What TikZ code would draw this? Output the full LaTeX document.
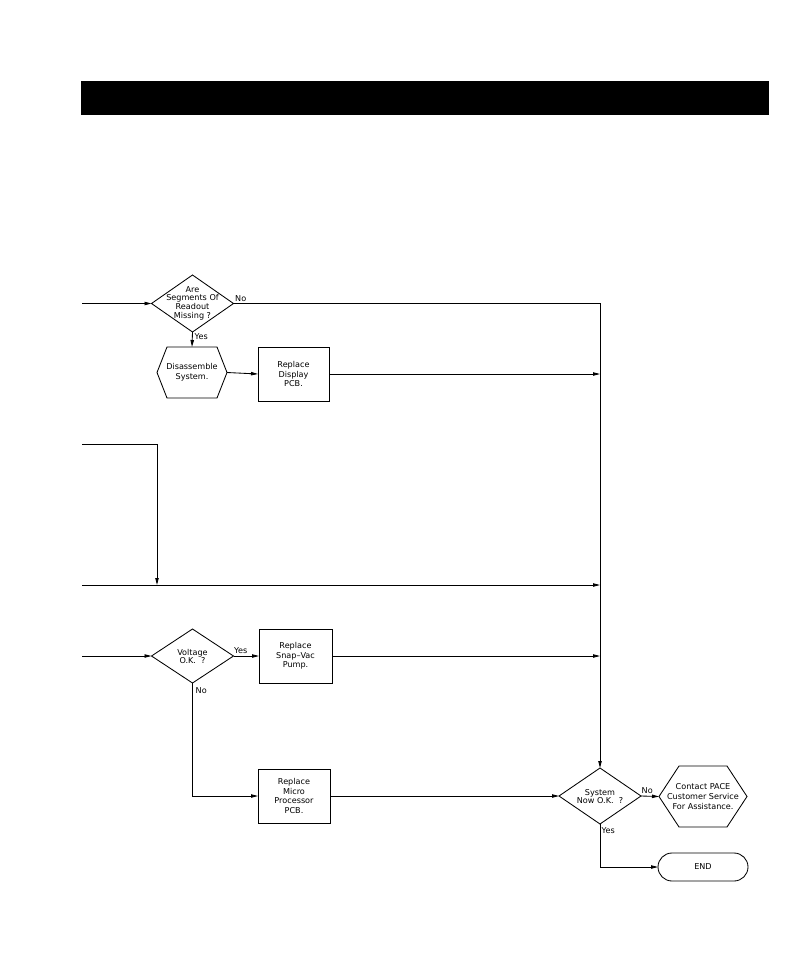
\documentclass[tikz,border=0pt]{standalone}
\usepackage{fontspec}
\setmainfont{DejaVu Sans}
\usetikzlibrary{arrows.meta,calc}
\tikzset{
  ln/.style={line width=0.85pt},
  arr/.style={ln,-{Stealth[length=7pt,width=3.4pt,inset=0pt]}},
  txt/.style={font=\fontsize{8.1}{9.6}\selectfont,align=center,inner sep=0pt},
  diatxt/.style={font=\fontsize{8.1}{8.7}\selectfont,align=center,inner sep=0pt},
  frame/.style={inner sep=0pt,outer sep=0pt},
  boxn/.style={draw,line width=0.85pt,inner sep=0pt,outer sep=0pt,font=\fontsize{8.1}{9.6}\selectfont,align=center},
  lab/.style={font=\fontsize{8.1}{9}\selectfont,inner sep=0pt,anchor=west}
}
\newcommand\hexdraw[2]{\draw[ln] (#1.west) -- ($(#1.north west)+(#2,0)$) -- ($(#1.north east)+(-#2,0)$) -- (#1.east) -- ($(#1.south east)+(-#2,0)$) -- ($(#1.south west)+(#2,0)$) -- cycle;}
\newcommand\diadraw[1]{\draw[ln] (#1.west) -- (#1.north) -- (#1.east) -- (#1.south) -- cycle;}
\begin{document}
\begin{tikzpicture}[x=1pt,y=-1pt]
\useasboundingbox (0,0) rectangle (797,972);
% title bar
\node[fill=black,inner sep=0pt,minimum width=688,minimum height=34] (bar) at (425,98) {};

% decision 1
\node[frame,minimum width=82,minimum height=57] (d1) at (192.5,303.5) {};
\diadraw{d1}
\node[diatxt] (d1t) at (192.5,303) {Are\\Segments Of\\Readout\\Missing ?};

% disassemble hexagon
\node[frame,minimum width=70,minimum height=51,txt] (h1) at (192,372.5) {Disassemble\\System.};
\hexdraw{h1}{10}

% replace display
\node[boxn,minimum width=71,minimum height=54] (b1) at (293.5,374) {Replace\\Display\\PCB.};

% decision voltage
\node[frame,minimum width=82,minimum height=54] (d2) at (192.5,656) {};
\diadraw{d2}
\node[diatxt] (d2t) at (192.5,656.5) {Voltage\\O.K.\ \ ?};

% replace pump
\node[boxn,minimum width=73,minimum height=54] (b2) at (295.5,656) {Replace\\Snap--Vac\\Pump.};

% replace micro
\node[boxn,minimum width=72,minimum height=54] (b3) at (294,796) {Replace\\Micro\\Processor\\PCB.};

% system decision
\node[frame,minimum width=82,minimum height=56] (d3) at (600,796) {};
\diadraw{d3}
\node[diatxt] (d3t) at (600,796.5) {System\\Now O.K.\ \ ?};

% contact hexagon
\node[frame,minimum width=88,minimum height=61,txt] (h2) at (703,796.5) {Contact PACE\\Customer Service\\For Assistance.};
\hexdraw{h2}{20}

% end
\node[boxn,minimum width=90,minimum height=28,rounded corners=14pt] (e) at (703,867) {END};

% free ends
\coordinate (in1) at (82,303.5);
\coordinate (in2) at (82,444);
\coordinate (k1) at (157,444);
\coordinate (k2) at (157,585);
\coordinate (in3) at (82,585);
\coordinate (in4) at (82,656);

% connectors
\draw[arr] (in1) -- (d1.west);
\draw[arr] (d1.east) -- (d1.east -| d3.north) -- (d3.north);
\draw[arr] (d1.south) -- (h1.north);
\draw[arr] (h1.east) -- (b1.west);
\draw[arr] (b1.east) -- (b1.east -| d3.north);
\draw[arr] (in2) -- (k1) -- (k2);
\draw[arr] (in3) -- (in3 -| d3.north);
\draw[arr] (in4) -- (d2.west);
\draw[arr] (d2.east) -- (b2.west);
\draw[arr] (b2.east) -- (b2.east -| d3.north);
\draw[arr] (d2.south) |- (b3.west);
\draw[arr] (b3.east) -- (d3.west);
\draw[arr] (d3.east) -- (h2.west);
\draw[arr] (d3.south) |- (e.west);

% labels
\node[lab] (l1) at (235,298.5) {No};
\node[lab] (l2) at (194.5,337) {Yes};
\node[lab] (l3) at (234,650.5) {Yes};
\node[lab] (l4) at (195.5,690.5) {No};
\node[lab] (l5) at (641.5,790.5) {No};
\node[lab] (l6) at (601.5,830.5) {Yes};
\end{tikzpicture}
\end{document}
